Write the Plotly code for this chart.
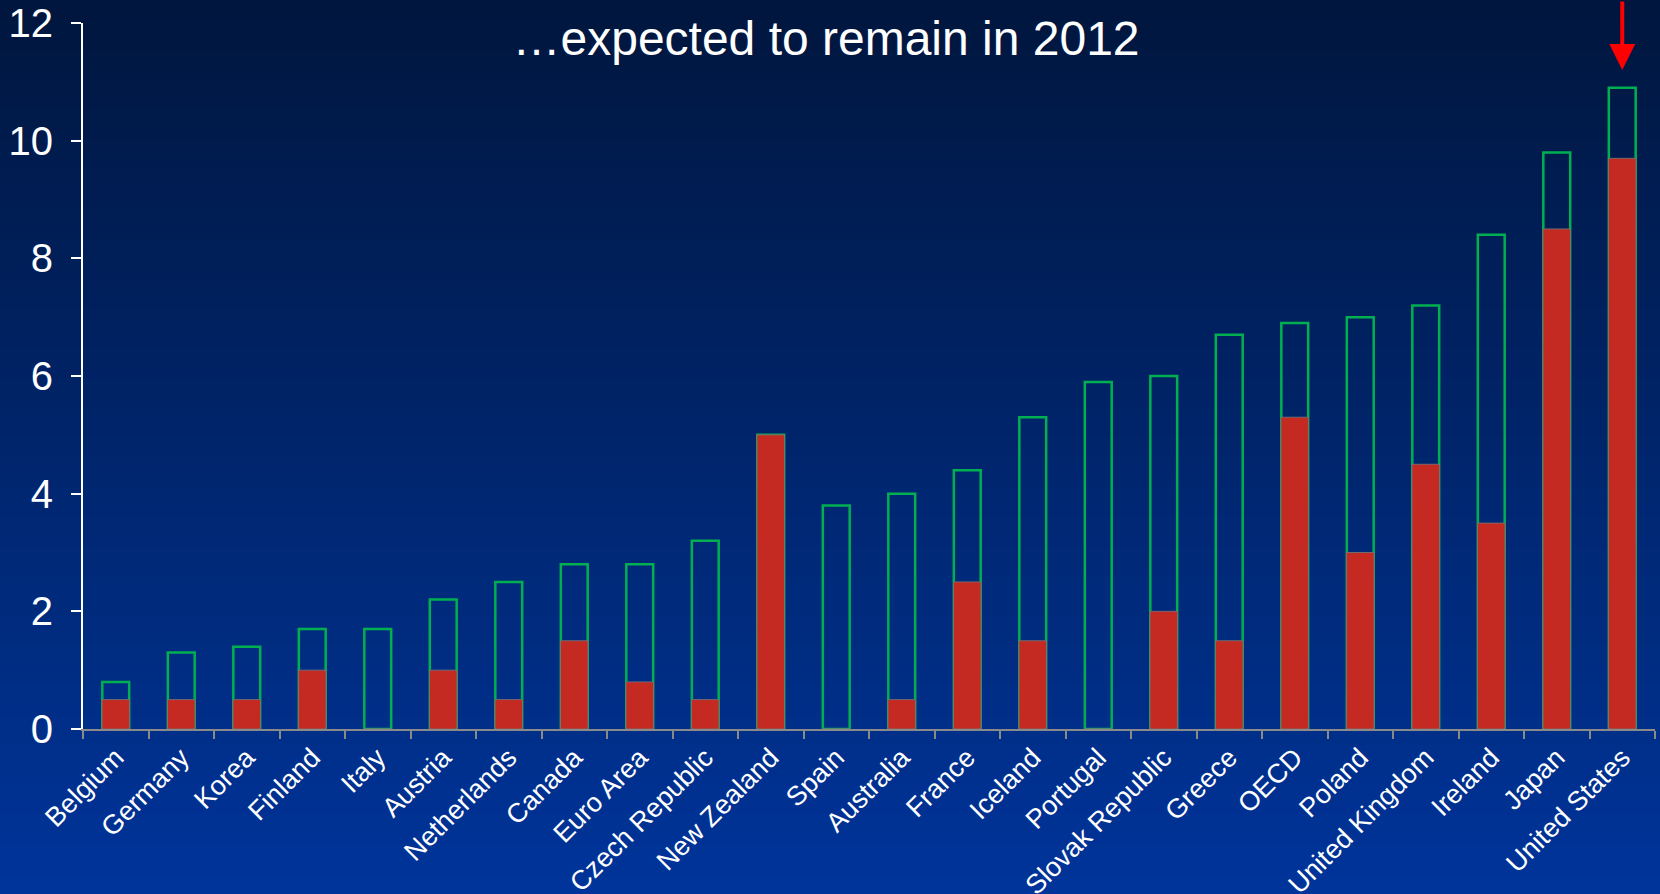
import plotly.graph_objects as go

countries = ["Belgium", "Germany", "Korea", "Finland", "Italy", "Austria", "Netherlands",
             "Canada", "Euro Area", "Czech Republic", "New Zealand", "Spain", "Australia",
             "France", "Iceland", "Portugal", "Slovak Republic", "Greece", "OECD", "Poland",
             "United Kingdom", "Ireland", "Japan", "United States"]
value_2012 = [0.8, 1.3, 1.4, 1.7, 1.7, 2.2, 2.5, 2.8, 2.8, 3.2, 5.0, 3.8, 4.0,
              4.4, 5.3, 5.9, 6.0, 6.7, 6.9, 7.0, 7.2, 8.4, 9.8, 10.9]
value_red = [0.5, 0.5, 0.5, 1.0, 0.0, 1.0, 0.5, 1.5, 0.8, 0.5, 5.0, 0.0, 0.5,
             2.5, 1.5, 0.0, 2.0, 1.5, 5.3, 3.0, 4.5, 3.5, 8.5, 9.7]
y_ticks = [0, 2, 4, 6, 8, 10, 12]
title_text = "\u2026expected to remain in 2012"
highlight = "United States"

W, H = 1660, 894
mt, mb, ml, mr = 23, 165, 83, 5
ph = H - mt - mb

# Gradient background via stacked strips (paper coordinates)
top_rgb = (0, 22, 62)
bot_rgb = (0, 52, 154)
n = 90
shapes = []
for i in range(n):
    py_top = H * i / n
    py_bot = H * (i + 1) / n + 1
    t = i / (n - 1)
    c = tuple(int(round(top_rgb[k] + (bot_rgb[k] - top_rgb[k]) * t)) for k in range(3))
    y1 = (H - mb - py_top) / ph
    y0 = (H - mb - py_bot) / ph
    shapes.append(dict(type="rect", xref="paper", yref="paper", x0=-0.2, x1=1.2,
                       y0=y0, y1=y1, fillcolor="rgb(%d,%d,%d)" % c,
                       line=dict(width=0), layer="below"))

fig = go.Figure()
fig.add_trace(go.Bar(
    x=countries, y=value_2012, width=0.41,
    marker=dict(color="rgba(0,0,0,0)", line=dict(color="#00B050", width=2.5)),
    showlegend=False, hoverinfo="x+y"))
fig.add_trace(go.Bar(
    x=countries, y=value_red, width=0.42,
    marker=dict(color="#C42A22", line=dict(color="rgba(120,120,120,0.8)", width=1)),
    showlegend=False, hoverinfo="x+y"))

fig.add_annotation(x=highlight, y=value_2012[countries.index(highlight)] + 0.3,
                   xref="x", yref="y", ax=0, ay=-76, showarrow=True,
                   arrowhead=2, arrowsize=1.3, arrowwidth=4, arrowcolor="#FF0000", text="")

fig.update_layout(
    barmode="overlay",
    width=W, height=H,
    margin=dict(l=ml, r=mr, t=mt, b=mb, autoexpand=False),
    paper_bgcolor="#001c4e",
    plot_bgcolor="rgba(0,0,0,0)",
    shapes=shapes,
    font=dict(family="Liberation Sans, Arial, sans-serif", color="white"),
    title=dict(text=title_text, x=0.4976, xanchor="center", y=1 - 38 / 894, yanchor="middle",
               xref="container", yref="container",
               font=dict(size=48, color="white", family="Liberation Sans, Arial, sans-serif")),
    xaxis=dict(type="category", tickangle=-45, tickfont=dict(size=27, color="white"),
               showline=True, linecolor="#8a8a8a", linewidth=2, ticks="outside",
               tickson="boundaries", tickcolor="#8a8a8a", ticklen=8, tickwidth=2,
               showgrid=False, zeroline=False, range=[-0.5, 23.5], automargin=False),
    yaxis=dict(range=[0, 12], tickvals=y_ticks, tickfont=dict(size=40, color="white"),
               showline=True, linecolor="white", linewidth=2, ticks="outside",
               tickcolor="white", ticklen=10, tickwidth=2, showgrid=False, zeroline=False,
               ticklabelstandoff=10, automargin=False),
)

fig.write_html("out.html", config={"displayModeBar": False},
               post_script="document.body.style.margin='0';document.body.style.overflow='hidden';")
